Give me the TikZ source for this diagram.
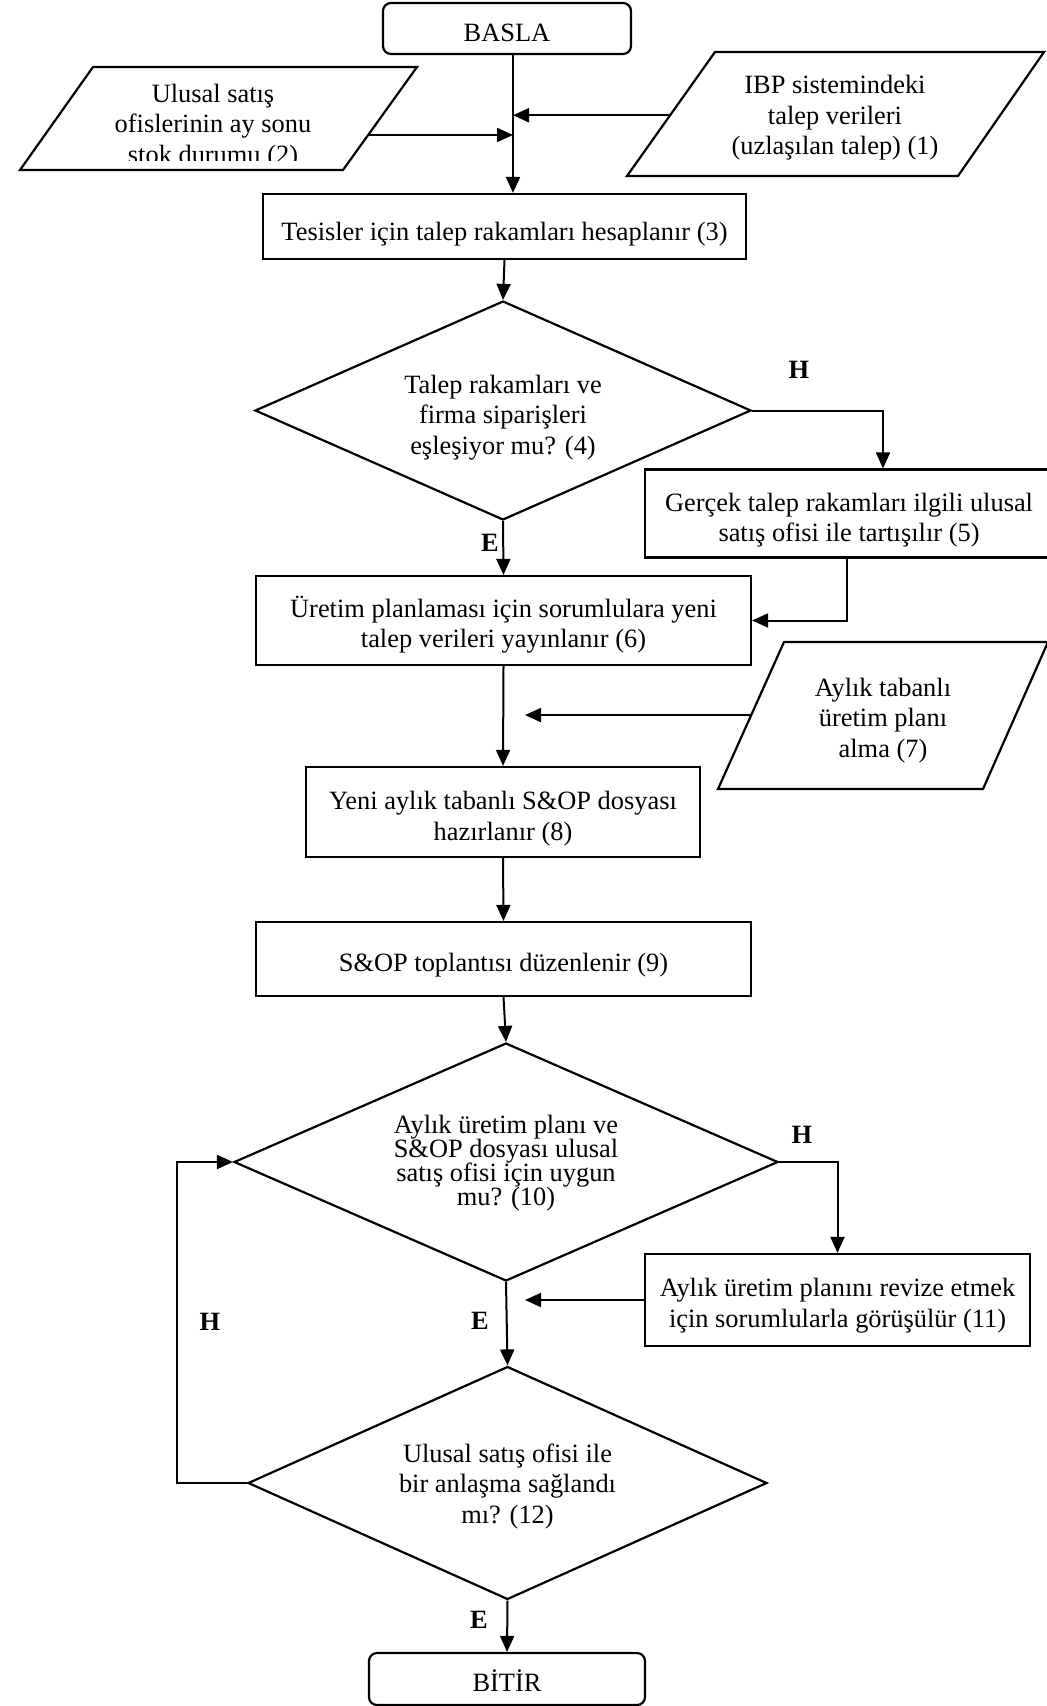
\documentclass[tikz,border=0pt]{standalone}
\usepackage{fontspec}
\setmainfont{Liberation Serif}
\usetikzlibrary{shapes.geometric,arrows.meta,calc}

% centred lines stacked at the current \baselineskip; the box baseline is the first line
\newcommand\stacklines[1]{\vtop{\lineskiplimit=-20pt\halign{\hfil##\hfil\cr#1\crcr}}}
% place the first baseline #1 below the node centre, reporting no height or depth
\newcommand\basedtext[2]{\raisebox{-#1}[0pt][0pt]{\stacklines{#2}}}

\tikzset{
  shapeline/.style={draw=black,line width=1.1pt},
  box/.style={shapeline,rectangle,inner sep=0pt},
  term/.style={box,rounded corners=4pt},
  decision/.style={shapeline,diamond,inner sep=0pt,aspect=2.25},
  txt/.style={inner sep=0pt},
  conn/.style={line width=1pt,-{Triangle[length=8pt,width=7pt]}},
  lab/.style={font=\fontsize{13.2}{15.2}\selectfont\bfseries,inner sep=0pt},
}

\begin{document}
\begin{tikzpicture}[x=0.5pt,y=-0.5pt,font=\fontsize{13.2}{15.2}\selectfont]
\useasboundingbox (0,0) rectangle (1046,1706);

% start / end terminals
\node[term,minimum width=124pt,minimum height=25.5pt] (start) at (507,28.5)
  {\basedtext{6.6pt}{BASLA}};
\node[term,minimum width=138pt,minimum height=26pt] (finish) at (507,1679)
  {\basedtext{6.35pt}{BİTİR}};

% input: monthly stock of national sales offices
\coordinate (p2tl) at (93,67);
\coordinate (p2tr) at (417,67);
\coordinate (p2br) at (343,170);
\coordinate (p2bl) at (20,170);
\draw[shapeline] (p2tl) -- (p2tr) -- (p2br) -- (p2bl) -- cycle;
\begin{scope}
  \clip (0,60) rectangle (1046,161);
  \node[txt] (p2) at (213,126)
    {\basedtext{-11.8pt}{Ulusal satış\cr ofislerinin ay sonu\cr stok durumu (2)}};
\end{scope}

% input: IBP demand data
\coordinate (p1tl) at (715,52);
\coordinate (p1tr) at (1044,52);
\coordinate (p1br) at (958,176);
\coordinate (p1bl) at (627,176);
\draw[shapeline] (p1tl) -- (p1tr) -- (p1br) -- (p1bl) -- cycle;
\node[txt] (p1) at (835,114.5)
  {\basedtext{-10.25pt}{IBP sistemindeki\cr talep verileri\cr (uzlaşılan talep) (1)}};

% input: monthly production plan
\coordinate (p7tl) at (784,642);
\coordinate (p7tr) at (1048,642);
\coordinate (p7br) at (983,789);
\coordinate (p7bl) at (718,789);
\draw[shapeline] (p7tl) -- (p7tr) -- (p7br) -- (p7bl) -- cycle;
\node[txt] (p7) at (883,718)
  {\basedtext{-10.8pt}{Aylık tabanlı\cr üretim planı\cr alma (7)}};

% process steps
\node[box,minimum width=241.5pt,minimum height=32.5pt] (b3) at (504.5,226.5)
  {\basedtext{7.1pt}{Tesisler için talep rakamları hesaplanır (3)}};
\node[decision,minimum width=248pt,minimum height=109.5pt] (d4) at (503,410.5)
  {\basedtext{-8.6pt}{Talep rakamları ve\cr firma siparişleri\cr eşleşiyor mu? (4)}};
\node[box,minimum width=204pt,minimum height=44pt] (b5) at (849,513.5)
  {\basedtext{-1.1pt}{Gerçek talep rakamları ilgili ulusal\cr satış ofisi ile tartışılır (5)}};
\node[box,minimum width=247.5pt,minimum height=44.5pt] (b6) at (503.5,620.5)
  {\basedtext{-1.6pt}{Üretim planlaması için sorumlulara yeni\cr talep verileri yayınlanır (6)}};
\node[box,minimum width=197pt,minimum height=45pt] (b8) at (503,812)
  {\basedtext{-1.2pt}{Yeni aylık tabanlı S\&OP dosyası\cr hazırlanır (8)}};
\node[box,minimum width=247.5pt,minimum height=37pt] (b9) at (503.5,959)
  {\basedtext{6.1pt}{S\&OP toplantısı düzenlenir (9)}};
\node[decision,minimum width=272pt,minimum height=119pt,
      font=\fontsize{13.2}{12.1}\selectfont] (d10) at (506,1162)
  {\basedtext{-14.35pt}{Aylık üretim planı ve\cr S\&OP dosyası ulusal\cr satış ofisi için uygun\cr mu? (10)}};
\node[box,minimum width=192.5pt,minimum height=46pt] (b11) at (837.5,1300)
  {\basedtext{-1.6pt}{Aylık üretim planını revize etmek\cr için sorumlularla görüşülür (11)}};
\node[decision,minimum width=259.5pt,minimum height=116.5pt] (d12) at (507.5,1483)
  {\basedtext{-10.4pt}{Ulusal satış ofisi ile\cr bir anlaşma sağlandı\cr mı? (12)}};

% branch labels
\node[lab] (h4) at (799,370) {H};
\node[lab] (e4) at (490,543) {E};
\node[lab] (h10) at (802,1135) {H};
\node[lab] (e10) at (480,1321) {E};
\node[lab] (h12) at (210,1322) {H};
\node[lab] (e12) at (479,1620) {E};

% guide coordinates for connector routing
\coordinate (trunk) at (513,0);
\coordinate (k5) at (883,0);
\coordinate (m7) at (525,0);
\coordinate (loopx) at (177,0);
\coordinate (p2r) at ($(p2tr)!0.66!(p2br)$);
\coordinate (p1l) at ($(p1tl)!0.51!(p1bl)$);
\coordinate (p7l) at ($(p7tl)!0.497!(p7bl)$);

% connectors
\draw[conn] (start.south -| trunk) -- (b3.north -| trunk);
\draw[conn] (p1l) -- (p1l -| trunk);
\draw[conn] (p2r) -- (p2r -| trunk);
\draw[conn] (b3.south) -- (d4.north);
\draw[conn] (d4.east) -| (k5 |- b5.north);
\draw[conn] (d4.south) -- (b6.north);
\draw[conn] ([xshift=-1pt]b5.south) |- (b6.east);
\draw[conn] (b6.south) -- (b8.north);
\draw[conn] (p7l) -- (p7l -| m7);
\draw[conn] (b8.south) -- (b9.north);
\draw[conn] (b9.south) -- (d10.north);
\draw[conn] (d10.east) -| (b11.north);
\draw[conn] (b11.west) -- (b11.west -| m7);
\draw[conn] (d10.south) -- (d12.north);
\draw[conn] (d12.west) -- (d12.west -| loopx) |- (d10.west);
\draw[conn] (d12.south) -- (finish.north);
\end{tikzpicture}
\end{document}
